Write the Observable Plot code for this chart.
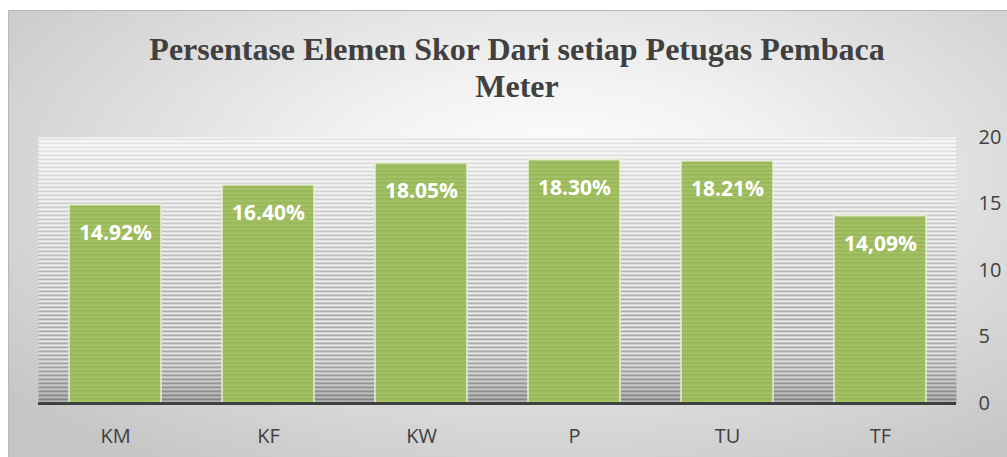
<!DOCTYPE html>
<html>
<head>
<meta charset="utf-8">
<script src="https://cdn.jsdelivr.net/npm/d3@7"></script>
<script src="https://cdn.jsdelivr.net/npm/@observablehq/plot@0.6"></script>
<style>
  html, body { margin: 0; padding: 0; background: #ffffff; }
  #wrap { position: relative; width: 1007px; height: 457px; overflow: hidden; }
  #panel {
    position: absolute; left: 8px; top: 10px; width: 1010px; height: 460px;
    border-top: 1px solid #b5b5b5; border-left: 1px solid #b8b8b8;
    background: radial-gradient(ellipse 70% 75% at 54% 36%, #ffffff 0%, #f2f2f2 30%, #dcdcdc 65%, #c6c6c6 100%);
  }
  #title {
    position: absolute; left: 0; top: 31px; width: 1034px; text-align: center;
    font-family: "Liberation Serif", "Times New Roman", serif; font-weight: bold;
    font-size: 32px; line-height: 37px; color: #404040;
  }
  #chart { position: absolute; left: 0; top: 0; }
</style>
</head>
<body>
<div id="wrap">
  <div id="panel"></div>
  <div id="title">Persentase Elemen Skor Dari setiap Petugas Pembaca<br>Meter</div>
  <div id="chart"></div>
</div>
<script>
const categories = ["KM", "KF", "KW", "P", "TU", "TF"];
const values = [14.92, 16.40, 18.05, 18.30, 18.21, 14.09];
const valueLabels = ["14.92%", "16.40%", "18.05%", "18.30%", "18.21%", "14,09%"];
const yTicks = [0, 5, 10, 15, 20];

const data = categories.map((c, i) => ({cat: c, value: values[i], label: valueLabels[i]}));

const chart = Plot.plot({
  width: 1007,
  height: 457,
  marginLeft: 38,
  marginRight: 51,
  marginTop: 137,
  marginBottom: 54,
  style: {background: "transparent", overflow: "visible", fontFamily: "'Open Sans', sans-serif"},
  x: {domain: categories, paddingInner: 0.4, paddingOuter: 0.2, label: null},
  y: {domain: [0, 20], label: null},
  marks: [
    Plot.frame({fill: "url(#bgStripes)", stroke: null}),
    Plot.frame({fill: "url(#bgFade)", stroke: null}),
    Plot.barY(data, {x: "cat", y: "value", fill: "url(#barStripes)", stroke: "#e6eed6", strokeWidth: 1.5}),
    Plot.text(data, {x: "cat", y: "value", text: "label", dy: 28, fill: "white", fontWeight: "bold", fontSize: 21, lineAnchor: "middle"}),
    Plot.ruleY([0], {stroke: "#404040", strokeWidth: 3}),
    Plot.axisY({anchor: "right", ticks: yTicks, tickSize: 0, tickPadding: 22, fontSize: 20, color: "#404040", label: null}),
    Plot.axisX({tickSize: 0, tickPadding: 25, fontSize: 20, color: "#404040", label: null})
  ]
});

// patterns for the stripe textures
const ns = "http://www.w3.org/2000/svg";
const defs = document.createElementNS(ns, "defs");
defs.innerHTML = `
  <pattern id="bgStripes" patternUnits="userSpaceOnUse" width="8" height="4">
    <rect width="8" height="4" fill="#ececec"/>
    <rect y="2" width="8" height="1.6" fill="#9a9a9a"/>
  </pattern>
  <linearGradient id="bgFade" x1="0" y1="0" x2="0" y2="1">
    <stop offset="0" stop-color="#ffffff" stop-opacity="0.7"/>
    <stop offset="0.45" stop-color="#ffffff" stop-opacity="0.22"/>
    <stop offset="0.7" stop-color="#ffffff" stop-opacity="0"/>
    <stop offset="1" stop-color="#000000" stop-opacity="0.25"/>
  </linearGradient>
  <pattern id="barStripes" patternUnits="userSpaceOnUse" width="8" height="4">
    <rect width="8" height="4" fill="#a2c064"/>
    <rect y="2" width="8" height="1.5" fill="#98b657"/>
  </pattern>`;
chart.insertBefore(defs, chart.firstChild);

document.getElementById("chart").appendChild(chart);
</script>
</body>
</html>
